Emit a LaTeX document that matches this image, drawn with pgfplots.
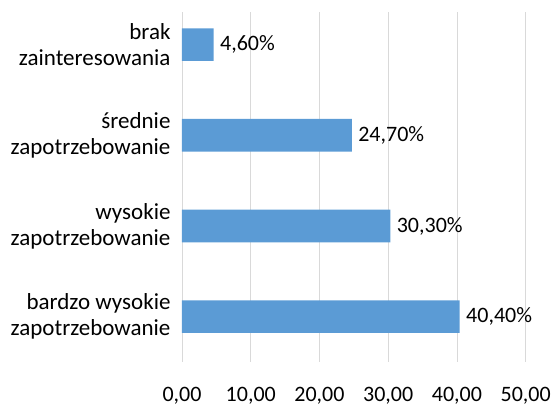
\documentclass[border=0pt]{standalone}
\usepackage{pgfplots}
\pgfplotsset{compat=1.18}
\usepackage{fontspec}
\setmainfont{Carlito}
\definecolor{barblue}{HTML}{5B9BD5}
\definecolor{gridgray}{HTML}{D9D9D9}
\begin{document}
\begin{tikzpicture}
\useasboundingbox (0,0) rectangle (552pt,409pt);
\begin{axis}[
  at={(182pt,47pt)}, anchor=south west,
  scale only axis, width=343.7pt, height=350pt,
  xbar, bar width=0.36,
  xmin=0, xmax=50, ymin=-0.5, ymax=3.36,
  xtick={0,10,20,30,40,50},
  xticklabels={{0,00},{10,00},{20,00},{30,00},{40,00},{50,00}},
  ytick={0,1,2,3},
  yticklabels={{bardzo wysokie\\zapotrzebowanie},{wysokie\\zapotrzebowanie},{średnie\\zapotrzebowanie},{brak\\zainteresowania}},
  yticklabel style={align=right, font=\fontsize{23}{26}\selectfont, xshift=-8pt},
  xticklabel style={font=\fontsize{22}{26}\selectfont, yshift=-22pt},
  axis line style={draw=none},
  major tick length=0pt,
  xmajorgrids, grid style={color=gridgray, line width=0.8pt},
  /pgf/number format/assume math mode=true,
  nodes near coords={\pgfmathprintnumber[fixed,fixed zerofill,precision=2,use comma]{\pgfplotspointmeta}\%},
  point meta=x,
  nodes near coords style={anchor=west, font=\fontsize{22}{26}\selectfont, xshift=3pt, text=black},
]
\addplot[fill=barblue, draw=none] coordinates {(40.4,0) (30.3,1) (24.7,2) (4.6,3)};
\end{axis}
\end{tikzpicture}
\end{document}
